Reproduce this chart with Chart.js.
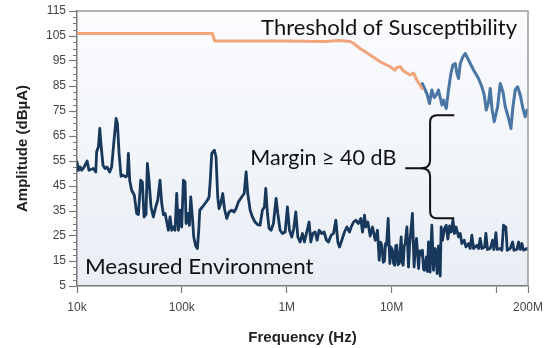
<!DOCTYPE html>
<html lang="en">
<head>
<meta charset="UTF-8">
<title>Threshold of Susceptibility vs Measured Environment</title>
<script src="https://cdn.jsdelivr.net/npm/chart.js@4"></script>
<style>
  body { margin: 0; background: #fff; }
  #wrap { width: 546px; height: 348px; }
</style>
</head>
<body>
<div id="wrap"><canvas id="emcChart" width="546" height="348"></canvas></div>
<script>
// axis ticks
const xTickValues = [1e4, 1e5, 1e6, 1e7, 1e8, 2e8];
const xTickLabels = ['10k', '100k', '1M', '10M', '', '200M'];
const yTickValues = [5, 15, 25, 35, 45, 55, 65, 75, 85, 95, 105, 115];

// measured environment (Hz / dBuA)
const measFreq = [
  10000, 10300, 10700, 11100, 11700, 12500, 13000, 14300, 15100, 15400, 16000, 16500, 16900, 17700,
  18500, 19300, 20500, 21400, 22400, 23600, 24300, 25200, 26300, 27700, 29100, 30200, 30900, 31800,
  33200, 35200, 37100, 38500, 40500, 42000, 43600, 45500, 46900, 48600, 50800, 53500, 56300, 58900,
  61900, 64300, 66700, 69200, 71800, 74400, 77200, 80100, 83000, 86100, 89300, 92700, 96100, 99700,
  103400, 107300, 109700, 113800, 118000, 121600, 126000, 129800, 135500, 140600, 144900, 148100,
  157000, 166400, 175300, 181800, 187100, 192700, 204400, 211800, 219800, 226300, 236600, 245500,
  254700, 268000, 282000, 299000, 315000, 329000, 346000, 372000, 393000, 410000, 425000, 448000,
  471000, 499000, 530000, 557000, 586000, 613000, 631000, 655000, 679000, 710000, 747000, 792000,
  822000, 865000, 910000, 966000, 1016000, 1062000, 1118000, 1168000, 1221000, 1276000, 1343000,
  1413000, 1476000, 1553000, 1635000, 1697000, 1773000, 1866000, 1950000, 2037000, 2161000, 2275000,
  2395000, 2502000, 2653000, 2793000, 2941000, 3073000, 3188000, 3353000, 3554000, 3743000, 3969000,
  4120000, 4340000, 4560000, 4830000, 5090000, 5280000, 5520000, 5680000, 5940000, 6250000, 6580000,
  6980000, 7340000, 7620000, 7850000, 8080000, 8320000, 8560000, 8750000, 8950000, 9280000, 9630000,
  9900000, 10200000, 10450000, 10700000, 10950000, 11200000, 11500000, 11800000, 12350000, 12600000,
  12900000, 13200000, 13500000, 14000000, 14500000, 14850000, 15200000, 15800000, 16400000, 16850000,
  17300000, 18100000, 18500000, 18900000, 19700000, 20150000, 20600000, 21500000, 22000000, 22500000,
  23300000, 24200000, 25100000, 25600000, 26100000, 27200000, 28000000, 29100000, 29700000, 30600000,
  32000000, 33200000, 34400000, 35700000,
  37100000, 38500000, 39800000, 41300000, 43500000, 45200000, 46800000, 49300000, 51200000, 54200000,
  56200000, 58300000, 60500000, 65100000, 67600000, 70000000, 72600000, 77100000, 79300000, 82200000,
  87300000, 91800000, 94600000, 98900000, 101800000, 108700000, 112700000, 116900000, 123000000,
  126700000, 135400000, 142600000, 146900000, 156800000, 162600000, 168700000, 175000000, 181500000,
  195400000, 200000000
];
const measAmp = [
  54.6, 51.3, 52.6, 51.3, 52.6, 55, 51.3, 52, 50.6, 58.7, 60.7, 68, 62, 53.3,
  52, 52.6, 50.6, 52.6, 62, 72, 70, 58, 48.9, 49.3, 48.6, 49.3, 58, 47.3,
  43.3, 41.3, 34, 33.6, 47.3, 46.6, 32.6, 33.6, 54, 47.3, 36.6, 32.6, 36.6, 39.3,
  47.3, 38, 33.6, 34, 30.6, 27.3, 32.6, 27.3, 28.6, 27.3, 42, 27.3, 35.3, 28.6,
  47.3, 46.6, 30, 34, 29.3, 40.6, 32.6, 24.6, 21, 20, 27.3, 35.3,
  36.6, 38, 39.3, 40.6, 48, 58, 59.3, 56.6, 40.6, 36, 38.6, 42,
  36, 32, 34.6, 35.3, 34.6, 36, 38.6, 40.6, 42, 50.6, 42, 35.3,
  32.6, 30.6, 29.5, 29.3, 35.3, 36.6, 44, 34, 28, 27.3, 30, 40,
  34, 27.3, 26, 26.6, 36.6, 27.3, 24.6, 28, 34.6, 24.6, 22.6,
  26, 22.6, 26.6, 30.6, 22.6, 26, 26.6, 23.3, 27.3, 26, 26.6,
  23.3, 22.6, 25.3, 26, 31.3, 22.6, 20.6, 23.3, 26.6, 28.6, 26.6,
  28.6, 30.6, 31.3, 30, 32, 26.6, 33.3, 28.6, 30.6, 25, 28.6,
  23.3, 27.3, 15.3, 22.5, 21.3, 14.5, 15, 22, 21.3, 32, 14,
  20.5, 19.3, 14, 13.3, 21, 21.3, 13.5, 14, 24.6, 14.5,
  13.3, 21, 22, 28.6, 12.6, 21.5, 26, 34, 12.6, 20.5,
  24, 12, 19, 17.3, 19.3, 11.8, 11.3, 16.6, 10.8, 22.6,
  10.6, 29.3, 11.3, 19, 20, 10, 21, 9, 28.6, 23.3,
  28, 29.3, 23.8, 29,
  26.6, 31.3, 26, 28.6, 24.6, 26, 22, 23.3, 20.6, 22,
  20, 25.3, 20, 21.3, 20, 24, 20, 20.6, 26, 19.6,
  20, 23.3, 19.6, 26.3, 19.6, 20, 19.3, 29.3, 28.6,
  19.3, 20, 22.6, 19.3, 19.6, 22.6, 19.6, 22, 19.3,
  20, 19.6
];

// threshold of susceptibility, defined part (orange)
const threshFreq = [10000, 195000, 206000, 1000000, 2320000, 3200000, 4030000, 4330000, 5010000,
  6250000, 7780000, 9700000, 10800000, 11200000, 12100000, 13000000, 15000000, 16200000, 17400000, 19500000];
const threshAmp = [106, 106, 103, 103, 102.8, 103.2, 102.8, 102.1, 100,
  97.4, 94.7, 92.7, 91.3, 92.4, 92.7, 91, 89.4, 90.2, 87.4, 84];

// threshold of susceptibility, measured part (blue)
const threshHfFreq = [19600000, 21700000, 23000000, 24200000, 25500000, 26700000, 28000000, 30200000,
  31300000, 33200000, 34900000, 36800000, 38400000, 40500000, 42000000, 43500000, 45200000, 47900000,
  50400000, 54200000, 60500000, 67500000, 72600000, 76500000, 80000000, 84200000, 87300000, 90600000,
  95300000, 102600000, 108700000, 115300000, 121400000, 130600000, 137500000, 143700000, 151100000,
  159100000, 168700000, 178900000, 188300000, 195400000, 200000000];
const threshHfAmp = [86, 82, 78, 83.4, 80.4, 81.4, 83.4, 77.4,
  79.4, 76, 83.4, 90, 93.4, 94, 90, 88, 94, 96.7,
  98, 95.4, 91.4, 88, 84.7, 81.4, 75.4, 78.7, 84, 76,
  70.7, 76.7, 86, 82.7, 76.7, 72, 68, 76.7, 83.4,
  84.7, 81.4, 76, 72.7, 75.4, 74.5];

// text labels placed in data units
const notes = [
  { text: 'Threshold of Susceptibility', from: 5.7e5, to: 1.57e8, y: 105.4 },
  { text: 'Margin \u2265 40 dB', from: 4.5e5, to: 1.11e7, y: 53.6 },
  { text: 'Measured Environment', from: 1.19e4, to: 1.8e6, y: 9.7 }
];
// brace spanning the margin
const brace = { spine: 2.33e7, tip: 3.96e7, cusp: 1.35e7, top: 73.3, mid: 52.1, bottom: 32.1 };

const toPoints = (xs, ys) => xs.map((x, i) => ({ x: x, y: ys[i] }));

const decor = {
  id: 'decor',
  beforeDraw(chart) {
    const { ctx, chartArea: a } = chart;
    const g = ctx.createLinearGradient(0, a.top, 0, a.bottom);
    g.addColorStop(0, '#fbfcfe');
    g.addColorStop(1, '#e9eef5');
    ctx.save();
    ctx.fillStyle = g;
    ctx.fillRect(a.left, a.top, a.right - a.left, a.bottom - a.top);
    ctx.restore();
  },
  afterDraw(chart) {
    const { ctx, chartArea: a, scales } = chart;
    const xs = scales.x, ys = scales.y;
    ctx.save();
    // top and right frame
    ctx.strokeStyle = '#9a9a9a';
    ctx.lineWidth = 1.5;
    ctx.beginPath();
    ctx.moveTo(a.left, a.top);
    ctx.lineTo(a.right, a.top);
    ctx.lineTo(a.right, a.bottom);
    ctx.stroke();

    // minor y ticks
    ctx.strokeStyle = '#7a7a7a';
    ctx.lineWidth = 1;
    for (let v = 5; v <= 115; v += 2.5) {
      if (yTickValues.includes(v)) continue;
      const py = Math.round(ys.getPixelForValue(v)) + 0.5;
      ctx.beginPath();
      ctx.moveTo(a.left - 4, py);
      ctx.lineTo(a.left, py);
      ctx.stroke();
    }

    // brace
    const sx = xs.getPixelForValue(brace.spine);
    const tx = xs.getPixelForValue(brace.tip);
    const cx = xs.getPixelForValue(brace.cusp);
    const yt = ys.getPixelForValue(brace.top);
    const ym = ys.getPixelForValue(brace.mid);
    const yb = ys.getPixelForValue(brace.bottom);
    ctx.strokeStyle = '#111';
    ctx.lineWidth = 2;
    ctx.beginPath();
    ctx.moveTo(tx, yt);
    ctx.lineTo(sx + 7, yt);
    ctx.quadraticCurveTo(sx, yt, sx, yt + 7);
    ctx.lineTo(sx, ym - 8);
    ctx.quadraticCurveTo(sx, ym, sx - 9, ym);
    ctx.lineTo(cx, ym);
    ctx.moveTo(sx - 9, ym);
    ctx.quadraticCurveTo(sx, ym, sx, ym + 8);
    ctx.lineTo(sx, yb - 7);
    ctx.quadraticCurveTo(sx, yb, sx + 7, yb);
    ctx.lineTo(tx, yb);
    ctx.stroke();

    // labels, squeezed to the width they take in the original
    ctx.fillStyle = '#111';
    ctx.textBaseline = 'alphabetic';
    ctx.font = '22px Lato';
    notes.forEach(n => {
      const x0 = xs.getPixelForValue(n.from);
      const x1 = xs.getPixelForValue(n.to);
      const y0 = ys.getPixelForValue(n.y);
      const w = ctx.measureText(n.text).width;
      ctx.save();
      ctx.translate(x0, y0);
      ctx.scale((x1 - x0) / w, 1);
      ctx.fillText(n.text, 0, 0);
      ctx.restore();
    });
    ctx.restore();
  }
};

const tickFont = { family: 'Liberation Sans', size: 12 };
const titleFont = { family: 'Liberation Sans', size: 15, weight: 'bold' };

new Chart(document.getElementById('emcChart').getContext('2d'), {
  type: 'line',
  data: {
    datasets: [
      { label: 'Measured Environment', data: toPoints(measFreq, measAmp), borderColor: '#17375b', borderWidth: 2.8 },
      { label: 'Threshold of Susceptibility', data: toPoints(threshFreq, threshAmp), borderColor: '#f2a47a', borderWidth: 3 },
      { label: 'Threshold (measured)', data: toPoints(threshHfFreq, threshHfAmp), borderColor: '#4a76a5', borderWidth: 3 }
    ]
  },
  options: {
    responsive: false,
    animation: false,
    layout: { padding: { top: 11, right: 18, left: 0, bottom: 0 } },
    elements: {
      point: { radius: 0 },
      line: { tension: 0, borderJoinStyle: 'round', borderCapStyle: 'round' }
    },
    plugins: { legend: { display: false }, tooltip: { enabled: false } },
    scales: {
      x: {
        type: 'logarithmic',
        min: 1e4,
        max: 2e8,
        afterBuildTicks: s => { s.ticks = xTickValues.map(v => ({ value: v })); },
        afterFit: s => { s.height = 62; s.paddingLeft = 0; s.paddingRight = 0; },
        ticks: {
          autoSkip: false, maxRotation: 0, padding: 7, font: tickFont, color: '#444',
          callback: (v, i) => xTickLabels[i]
        },
        grid: { drawOnChartArea: false, tickLength: 7, tickColor: '#7a7a7a', tickWidth: 1.2 },
        border: { color: '#7a7a7a', width: 1.5 },
        title: { display: true, text: 'Frequency (Hz)', font: titleFont, color: '#222', padding: { top: 0, bottom: 1 } }
      },
      y: {
        min: 5,
        max: 115,
        afterBuildTicks: s => { s.ticks = yTickValues.map(v => ({ value: v })); },
        afterFit: s => { s.width = 77; s.paddingTop = 0; s.paddingBottom = 0; },
        ticks: { padding: 3, font: tickFont, color: '#444' },
        grid: { drawOnChartArea: false, tickLength: 8, tickColor: '#7a7a7a', tickWidth: 1.2 },
        border: { color: '#7a7a7a', width: 1.5 },
        title: { display: true, text: 'Amplitude (dB\u00b5A)', font: titleFont, color: '#222', padding: { top: 14, bottom: 0 } }
      }
    }
  },
  plugins: [decor]
});
</script>
</body>
</html>
